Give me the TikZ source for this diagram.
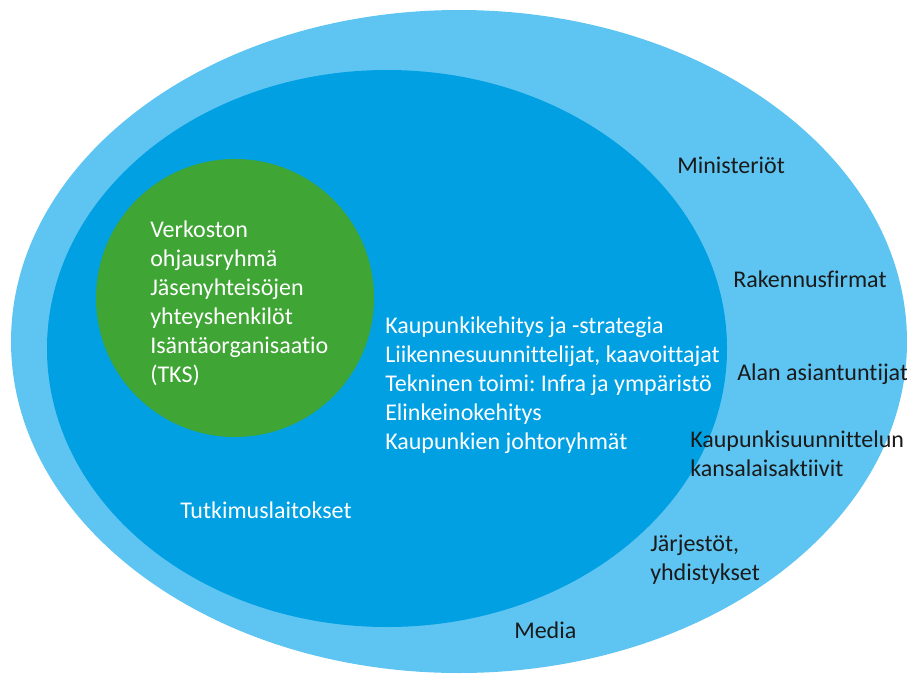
\documentclass[tikz,border=0pt]{standalone}
\usepackage{fontspec}
\setmainfont{Carlito}[Ligatures=NoCommon]
\frenchspacing
\usetikzlibrary{shapes.geometric}
\definecolor{vaalea}{HTML}{5EC5F2}
\definecolor{sininen}{HTML}{00A0E3}
\definecolor{vihrea}{HTML}{3FA535}
\definecolor{teksti}{HTML}{1A1A1A}
\tikzstyle{every node}=[font=\fontsize{18}{21.7}\selectfont, inner sep=0pt]
\tikzstyle{ring}=[ellipse, draw=none]
\tikzstyle{valk}=[text=white, align=left, anchor=west]
\tikzstyle{musta}=[text=teksti, align=left, anchor=west]

\begin{document}
\begin{tikzpicture}[x=0.75pt,y=-0.75pt]
\useasboundingbox (0,0) rectangle (907,675);
%kehät
\node[ring, fill=vaalea, minimum width=672pt, minimum height=497.25pt] (ulko) at (459,341.5) {};
\node[ring, fill=sininen, minimum width=510pt, minimum height=417.75pt] (sisa) at (387,348.5) {};
\node[circle, fill=vihrea, minimum size=208.5pt] (ydin) at (235,298) {};
%ydin
\node[valk] (ohjaus) at (150,303.5) {Verkoston\\ohjausryhmä\\Jäsenyhteisöjen\\yhteyshenkilöt\\Isäntäorganisaatio\\(TKS)};
%sisäkehä
\node[valk] (kunnat) at (385,385.5) {Kaupunkikehitys ja -strategia\\Liikennesuunnittelijat, kaavoittajat\\Tekninen toimi: Infra ja ympäristö\\Elinkeinokehitys\\Kaupunkien johtoryhmät};
\node[valk] (tutkimus) at (180,510) {Tutkimuslaitokset};
%ulkokehä
\node[musta] (ministeriot) at (677,165) {Ministeriöt};
\node[musta] (rakennus) at (733,279) {Rakennusfirmat};
\node[musta] (asiantuntijat) at (737,374) {Alan asiantuntijat};
\node[musta] (aktiivit) at (690,454) {Kaupunkisuunnittelun\\kansalaisaktiivit};
\node[musta] (jarjestot) at (650,559.5) {Järjestöt,\\yhdistykset};
\node[musta] (media) at (514,630) {Media};
\end{tikzpicture}
\end{document}
